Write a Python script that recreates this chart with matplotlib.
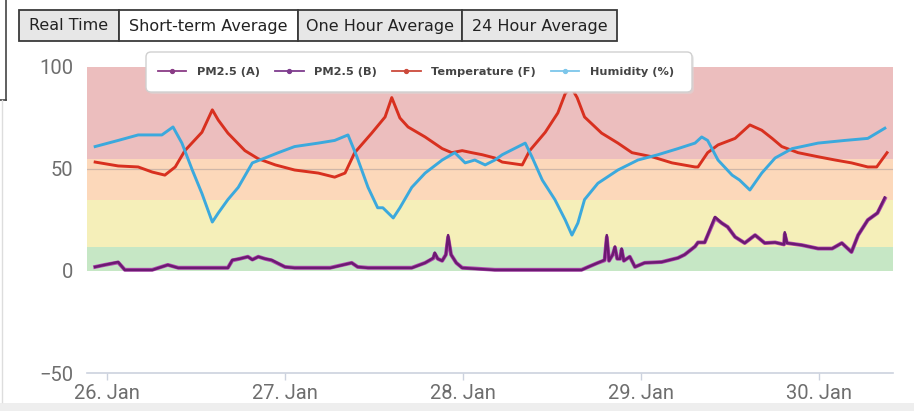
import pandas as pd
import matplotlib
matplotlib.use("Agg")
import matplotlib.pyplot as plt
import matplotlib.dates as mdates
from matplotlib.lines import Line2D
from matplotlib.patches import Rectangle, FancyBboxPatch

START = pd.Timestamp("2020-01-26")

# ── values (hours after 26 Jan 00:00) ────────────────────────────────────────
temp_h = [-1.6, 1.5, 4.2, 6.1, 7.8, 9.2, 10.5, 12.8, 14.2, 15.0, 16.3, 18.6,
          20.4, 22.7, 25.3, 28.5, 30.7, 32.1, 33.4, 35.7, 37.5, 38.4, 39.5,
          40.6, 42.9, 45.2, 46.5, 47.9, 49.2, 50.6, 52.3, 53.3, 56.0, 57.0,
          59.1, 60.8, 61.8, 62.6, 63.4, 64.4, 66.7, 68.9, 70.8, 73.5, 76.2,
          79.3, 79.7, 81.0, 82.4, 84.7, 86.7, 88.3, 89.7, 91.0, 93.2, 95.9,
          98.2, 100.4, 102.6, 103.8, 105.2]
temp_v = [53.4, 51.5, 51, 48.5, 47, 51, 59, 68, 79, 74, 67.6, 59,
          55, 52, 49.5, 48, 46, 48, 58, 67.6, 75.5, 85, 75,
          70.6, 65.7, 60, 58, 59, 58, 57, 55.4, 53.4, 52, 59,
          68, 77.5, 87, 90, 85, 75.5, 67.6, 62.7, 58, 56, 53,
          51, 51, 58, 61.8, 65, 71.6, 69, 65, 61, 58, 56,
          54.4, 53, 51, 51, 58]

hum_h = [-1.6, 1.5, 4.2, 7.4, 8.9, 10.1, 11.5, 12.8, 14.2, 15.0, 16.3, 17.7,
         19.6, 21.3, 23.1, 25.3, 28.5, 30.7, 32.5, 33.7, 35.2, 36.5, 37.2,
         38.6, 39.5, 41.1, 42.9, 45.2, 46.9, 48.3, 49.6, 51.0, 52.3, 53.3,
         56.4, 57.3, 58.7, 60.4, 61.8, 62.7, 63.5, 64.4, 66.2, 68.9, 71.6,
         74.3, 77.0, 79.3, 80.2, 81.0, 82.4, 84.3, 85.3, 86.7, 88.3, 90.1,
         92.4, 95.9, 99.5, 102.6, 104.9]
hum_v = [61, 64, 66.7, 66.7, 70.6, 62.7, 49.5, 38, 24, 28.4, 35, 41,
         53, 55.4, 58, 61, 62.7, 64, 66.7, 56, 41, 31, 31,
         26, 31, 41, 48, 54.4, 58, 53, 54.4, 52, 54.4, 57,
         62.7, 56, 44.6, 35, 25, 17.6, 23.5, 35, 43, 49.5, 54.4,
         57, 60, 62.7, 65.7, 64, 54.4, 47, 44.6, 39.7, 48, 55.4,
         60, 62.7, 64, 65, 70]

pm_h = [-1.6, -0.3, 1.5, 2.4, 6.1, 8.2, 9.6, 16.3, 16.9, 17.9, 19.0, 19.6,
        20.4, 21.3, 22.2, 24.0, 25.3, 30.1, 33.0, 33.8, 35.2, 41.1, 42.9,
        44.0, 44.2, 44.6, 45.2, 45.7, 46.0, 46.4, 47.1, 47.9, 52.3, 64.0,
        64.9, 66.2, 67.1, 67.4, 67.7, 68.2, 68.5, 68.8, 69.2, 69.4, 69.7,
        70.5, 71.2, 72.5, 74.8, 77.0, 77.9, 79.3, 79.7, 80.6, 82.0, 82.9,
        83.7, 84.7, 86.0, 87.4, 88.7, 90.1, 91.3, 91.4, 91.7, 93.7, 95.9,
        97.8, 99.1, 100.4, 101.3, 102.6, 103.9, 104.9]
pm_a = [2, 3, 4.4, 0.5, 0.5, 3, 1.5, 1.5, 5.4, 6, 7, 5.5,
        7, 6, 5.4, 2, 1.5, 1.5, 4, 2, 1.5, 1.5, 4,
        6.4, 9, 6, 5, 8, 17.6, 8, 4, 1.5, 0.5, 0.5,
        2, 4, 5.4, 17.6, 5, 8, 12, 6, 6, 11, 5,
        7, 2, 4, 4.4, 6.4, 8, 12, 14, 14, 26.5, 23.5,
        21.6, 16.7, 13.7, 17.6, 13.7, 14, 13, 19, 13.7, 12.7, 11,
        11, 13.7, 9.3, 17.6, 25, 28.4, 36]
pm_b = [2, 3, 4.2, 0.6, 0.6, 3, 1.6, 1.6, 5.2, 6, 7, 5.6,
        7, 6, 5.2, 2, 1.6, 1.6, 4, 2, 1.6, 1.6, 4,
        6.2, 8.5, 6, 5, 8, 16.5, 8, 4, 1.6, 0.6, 0.6,
        2, 4, 5.2, 16.5, 5, 8, 11.5, 6, 6, 10.5, 5,
        7, 2, 4, 4.4, 6.4, 8, 12, 14, 14, 26, 23.5,
        21.6, 16.7, 13.7, 17.6, 13.7, 14, 13, 18, 13.7, 12.7, 11,
        11, 13.7, 9.3, 17.6, 25, 28.4, 35.5]

# AQI-style bands: (low, high, colour)
BANDS = [(0, 12, "#c6e7c5"), (12, 35, "#f5efb9"),
         (35, 55, "#fcd8ba"), (55, 100, "#ecbebe")]

SERIES = ["PM2.5 (A)", "PM2.5 (B)", "Temperature (F)", "Humidity (%)"]
COLORS = {"PM2.5 (A)": "#6c1a72", "PM2.5 (B)": "#b04bb0",
          "Temperature (F)": "#d8301f", "Humidity (%)": "#3ba9dd"}
LEGEND_COLORS = ["#8a3c86", "#7e3c8e", "#cc4a3c", "#7cc6ea"]
TABS = ["Real Time", "Short-term Average", "One Hour Average", "24 Hour Average"]
SELECTED = 1


def to_time(hours):
    return START + pd.to_timedelta(hours, unit="h")


TICK_FONT = ["Roboto", "DejaVu Sans"]

W, H = 914, 411
fig = plt.figure(figsize=(W / 100, H / 100), dpi=100)
fig.patch.set_facecolor("white")

# ── background decorations: tab bar, frame (pixel coordinates) ────────────
ui = fig.add_axes([0, 0, 1, 1], zorder=-1)
ui.set_xlim(0, W)
ui.set_ylim(H, 0)
ui.axis("off")
tab_x = [19, 119, 298, 462, 617]
for i, name in enumerate(TABS):
    x0, x1 = tab_x[i], tab_x[i + 1]
    fill = "white" if i == SELECTED else "#e7e7e7"
    ui.add_patch(Rectangle((x0, 10), x1 - x0, 31, facecolor=fill,
                           edgecolor="#3a3a3a", lw=1.3))
    ui.text((x0 + x1) / 2, 26, name, ha="center", va="center",
            fontsize=11.5, color="#222222", family="DejaVu Sans")
ui.plot([6, 6], [0, 100], color="#444444", lw=1.2)
ui.plot([0, 6], [100, 100], color="#444444", lw=1.2)
ui.plot([1.5, 1.5], [100, 402], color="#dddddd", lw=1)
ui.add_patch(Rectangle((0, 403), W, 8, facecolor="#eeeeee", lw=0))

# ── main chart ─────────────────────────────────────────────────────────────
ax = fig.add_axes([87 / W, 1 - 373 / H, 806 / W, 306 / H], zorder=0)
for lo, hi, c in BANDS:
    ax.axhspan(lo, hi, color=c, lw=0, zorder=0)
ax.axhline(50, color="#cfb7a8", lw=0.9, zorder=1)

ax.plot(to_time(temp_h), temp_v, color=COLORS["Temperature (F)"], lw=2.1, zorder=3)
ax.plot(to_time(hum_h), hum_v, color=COLORS["Humidity (%)"], lw=2.1, zorder=3)
ax.plot(to_time(pm_h), pm_b, color=COLORS["PM2.5 (B)"], lw=2.8, zorder=4)
ax.plot(to_time(pm_h), pm_a, color=COLORS["PM2.5 (A)"], lw=1.8, zorder=5)

ax.set_ylim(-50, 100)
ax.set_yticks([-50, 0, 50, 100])
ax.set_xlim(to_time(-2.7), to_time(106.0))
ax.xaxis.set_major_locator(mdates.DayLocator())
ax.xaxis.set_major_formatter(mdates.DateFormatter("%d. %b"))

for s in ["top", "right", "left"]:
    ax.spines[s].set_visible(False)
ax.spines["bottom"].set_color("#ccd2de")
ax.spines["bottom"].set_linewidth(1.2)
ax.tick_params(axis="y", length=0, pad=10, labelsize=14.5, labelcolor="#6e6e6e")
ax.tick_params(axis="x", length=5, width=1, color="#ccd2de", pad=3,
               labelsize=14.5, labelcolor="#6e6e6e")
for lab in ax.get_xticklabels() + ax.get_yticklabels():
    lab.set_family(TICK_FONT)

# ── legend box, drawn above the chart ─────────────────────────────────────
top = fig.add_axes([0, 0, 1, 1], zorder=2)
top.set_xlim(0, W)
top.set_ylim(H, 0)
top.axis("off")
top.add_patch(FancyBboxPatch((148, 54), 546, 40,
                             boxstyle="round,pad=0,rounding_size=5",
                             facecolor="#d9d9d9", lw=0, alpha=0.5))
top.add_patch(FancyBboxPatch((146, 52), 546, 40,
                             boxstyle="round,pad=0,rounding_size=5",
                             facecolor="white", edgecolor="#d0d0d0", lw=1))
handles = [Line2D([], [], color=c, lw=1.3, marker="o", markersize=2.8)
           for c in LEGEND_COLORS]
top.legend(handles, SERIES, loc="center left",
           bbox_to_anchor=(150 / W, 1 - 72 / H), bbox_transform=fig.transFigure,
           ncol=4, frameon=False,
           prop=dict(family="DejaVu Sans", weight="bold", size=8.2),
           labelcolor="#444444", handlelength=2.5, handletextpad=0.9,
           columnspacing=1.35, borderpad=0.2)

fig.savefig("out.png", dpi=100)
